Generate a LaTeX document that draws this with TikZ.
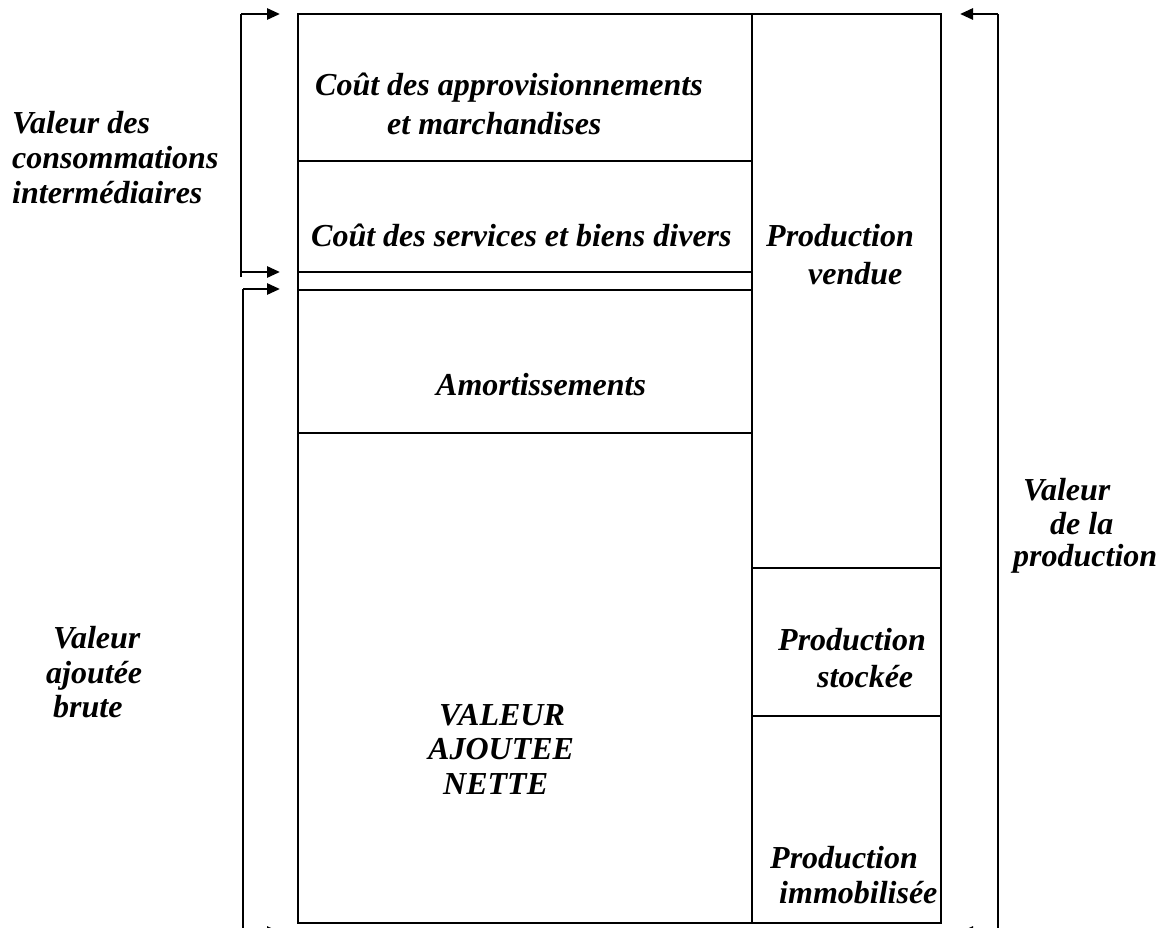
\documentclass[tikz,border=0pt]{standalone}
\usepackage{fontspec}
\setmainfont{Liberation Serif}
\usetikzlibrary{arrows.meta}
\begin{document}
\begin{tikzpicture}[x=1pt,y=-1pt,
  frame/.style={line width=2.9pt,line cap=rect},
  bracket/.style={line width=2.7pt},
  brace/.style={line width=2.7pt,-{Triangle[length=13pt,width=11pt]}},
  lbl/.style={anchor=base west,inner sep=0pt,font=\fontsize{32}{38}\selectfont\bfseries\itshape}]
\useasboundingbox (0,0) rectangle (1167,928);
\clip (0,0) rectangle (1167,928);
% corners of the main block and its divisions
\coordinate (tl) at (298,14);
\coordinate (br) at (941,923);
\coordinate (mt) at (752,14);
\coordinate (mb) at (752,923);
\draw[frame] (tl) rectangle (br);
\draw[frame] (mt) -- (mb);
\foreach \y/\n in {161/a,272/b,290/c,433/d}{
  \coordinate (l\n) at (298,\y);
  \coordinate (r\n) at (752,\y);
  \draw[frame] (l\n) -- (r\n);
}
\foreach \y/\n in {568/e,716/f}{
  \coordinate (l\n) at (752,\y);
  \coordinate (r\n) at (941,\y);
  \draw[frame] (l\n) -- (r\n);
}
% brackets with their arrows
\coordinate (ci1) at (241,14);
\coordinate (ci2) at (241,277);
\coordinate (ci3) at (241,272);
\draw[bracket] (ci2) -- (ci1);
\draw[brace] (ci1) -- (280,14);
\draw[brace] (ci3) -- (280,272);
\coordinate (vb1) at (243,289);
\coordinate (vb2) at (243,932);
\draw[bracket] (vb1) -- (vb2);
\draw[brace] (vb1) -- (280,289);
\draw[brace] (vb2) -- (280,932);
\coordinate (vp1) at (998,14);
\coordinate (vp2) at (998,932);
\draw[bracket] (vp1) -- (vp2);
\draw[brace] (vp1) -- (960,14);
\draw[brace] (vp2) -- (960,932);
% texts inside the block
\node[lbl] (t1) at (315,96) {Coût des approvisionnements};
\node[lbl] (t2) at (387,135) {et marchandises};
\node[lbl] (t3) at (311,247) {Coût des services et biens divers};
\node[lbl] (t4) at (436,395) {Amortissements};
\node[lbl] (t5) at (439,725) {VALEUR};
\node[lbl] (t6) at (428,759) {AJOUTEE};
\node[lbl] (t7) at (443,794) {NETTE};
\node[lbl] (t8) at (766,247) {Production};
\node[lbl] (t9) at (808,284) {vendue};
\node[lbl] (t10) at (778,650) {Production};
\node[lbl] (t11) at (817,687) {stockée};
\node[lbl] (t12) at (770,868) {Production};
\node[lbl] (t13) at (779,903) {immobilisée};
% texts outside the block
\node[lbl] (s1) at (12,134) {Valeur des};
\node[lbl] (s2) at (12,169) {consommations};
\node[lbl] (s3) at (12,204) {intermédiaires};
\node[lbl] (s4) at (53,648) {Valeur};
\node[lbl] (s5) at (46,683) {ajoutée};
\node[lbl] (s6) at (53,717) {brute};
\node[lbl] (s7) at (1023,500) {Valeur};
\node[lbl] (s8) at (1050,534) {de la};
\node[lbl] (s9) at (1013,566) {production};
\end{tikzpicture}
\end{document}
